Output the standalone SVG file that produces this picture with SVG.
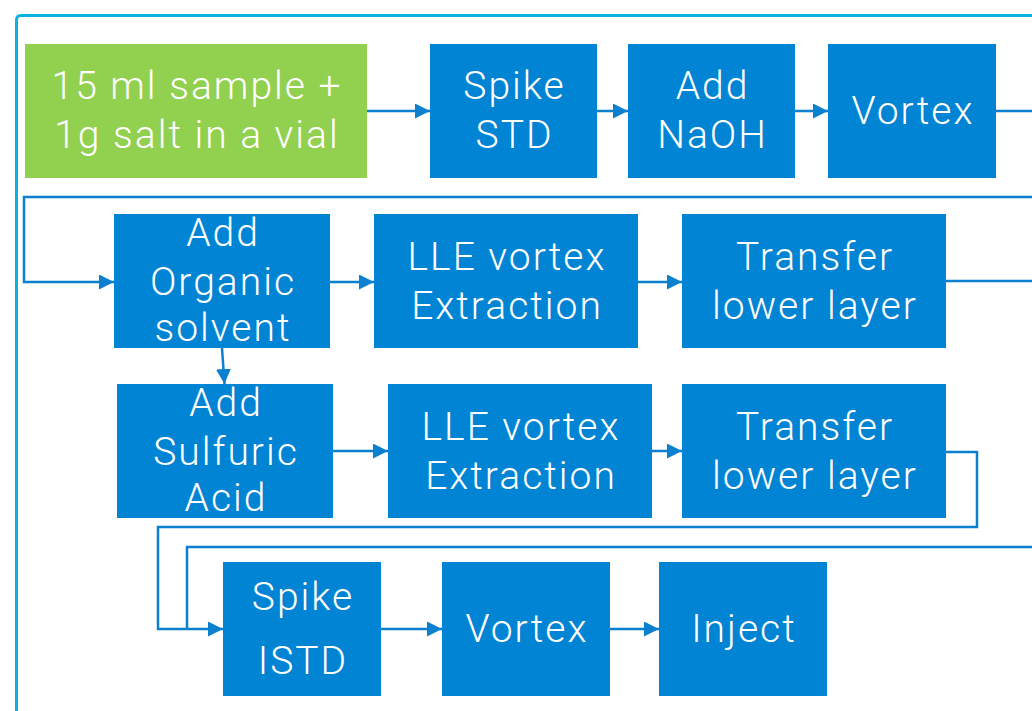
<svg xmlns="http://www.w3.org/2000/svg" width="1032" height="711" viewBox="0 0 1032 711">
  <defs>
    <style>
      .frame { fill: none; stroke: #0BB3E3; stroke-width: 3; }
      .box { fill: #0084D3; }
      .start { fill: #92D050; }
      .lbl { font-family: Roboto, "Open Sans", sans-serif; font-weight: 300; font-size: 39px; letter-spacing: 2px; fill: #FFFFFF; text-anchor: middle; }
      .wire { fill: none; stroke: #0B80CF; stroke-width: 2.5; }
    </style>
    <marker id="arrow" viewBox="0 0 10 10" refX="10" refY="5" markerWidth="6" markerHeight="6" markerUnits="strokeWidth" orient="auto">
      <path d="M0,0 L10,5 L0,10 z" fill="#0B80CF"/>
    </marker>
  </defs>
  <rect width="1032" height="711" fill="#FFFFFF"/>

  <!-- outer frame -->
  <path class="frame" d="M16.5,720 V20 Q16.5,15.5 21,15.5 H1040"/>

  <!-- connectors -->
  <g id="connectors">
    <line class="wire" x1="367" y1="111" x2="430" y2="111" marker-end="url(#arrow)"/>
    <line class="wire" x1="597" y1="111" x2="628" y2="111" marker-end="url(#arrow)"/>
    <line class="wire" x1="795" y1="111" x2="828" y2="111" marker-end="url(#arrow)"/>
    <line class="wire" x1="996" y1="111" x2="1032" y2="111"/>
    <polyline class="wire" points="1032,197 24,197 24,282 114,282" marker-end="url(#arrow)"/>
    <line class="wire" x1="330" y1="282" x2="374" y2="282" marker-end="url(#arrow)"/>
    <line class="wire" x1="638" y1="282" x2="682" y2="282" marker-end="url(#arrow)"/>
    <line class="wire" x1="946" y1="281" x2="1032" y2="281"/>
    <line class="wire" x1="222" y1="348" x2="224.5" y2="384" marker-end="url(#arrow)"/>
    <line class="wire" x1="333" y1="451" x2="388" y2="451" marker-end="url(#arrow)"/>
    <line class="wire" x1="652" y1="451" x2="682" y2="451" marker-end="url(#arrow)"/>
    <polyline class="wire" points="946,452 977,452 977,527 158,527 158,629 223,629" marker-end="url(#arrow)"/>
    <polyline class="wire" points="1032,547 187,547 187,629"/>
    <line class="wire" x1="381" y1="629" x2="442" y2="629" marker-end="url(#arrow)"/>
    <line class="wire" x1="610" y1="629" x2="659" y2="629" marker-end="url(#arrow)"/>
  </g>

  <!-- row 1 -->
  <g id="sample">
    <rect class="start" x="25" y="44" width="342" height="134"/>
    <text class="lbl" x="197" y="99">15 ml sample +</text>
    <text class="lbl" x="197" y="148">1g salt in a vial</text>
  </g>
  <g id="spike-std">
    <rect class="box" x="430" y="44" width="167" height="134"/>
    <text class="lbl" x="514.5" y="99">Spike</text>
    <text class="lbl" x="514.5" y="148">STD</text>
  </g>
  <g id="add-naoh">
    <rect class="box" x="628" y="44" width="167" height="134"/>
    <text class="lbl" x="712.5" y="99">Add</text>
    <text class="lbl" x="712.5" y="148">NaOH</text>
  </g>
  <g id="vortex-1">
    <rect class="box" x="828" y="44" width="168" height="134"/>
    <text class="lbl" x="913" y="124">Vortex</text>
  </g>

  <!-- row 2 -->
  <g id="add-organic">
    <rect class="box" x="114" y="214" width="216" height="134"/>
    <text class="lbl" x="223" y="246">Add</text>
    <text class="lbl" x="223" y="295">Organic</text>
    <text class="lbl" x="223" y="341">solvent</text>
  </g>
  <g id="lle-1">
    <rect class="box" x="374" y="214" width="264" height="134"/>
    <text class="lbl" x="507" y="270">LLE vortex</text>
    <text class="lbl" x="507" y="319">Extraction</text>
  </g>
  <g id="transfer-1">
    <rect class="box" x="682" y="214" width="264" height="134"/>
    <text class="lbl" x="815" y="270">Transfer</text>
    <text class="lbl" x="815" y="319">lower layer</text>
  </g>

  <!-- row 3 -->
  <g id="add-sulfuric">
    <rect class="box" x="117" y="384" width="216" height="134"/>
    <text class="lbl" x="226" y="416">Add</text>
    <text class="lbl" x="226" y="465">Sulfuric</text>
    <text class="lbl" x="226" y="511">Acid</text>
  </g>
  <g id="lle-2">
    <rect class="box" x="388" y="384" width="264" height="134"/>
    <text class="lbl" x="521" y="440">LLE vortex</text>
    <text class="lbl" x="521" y="489">Extraction</text>
  </g>
  <g id="transfer-2">
    <rect class="box" x="682" y="384" width="264" height="134"/>
    <text class="lbl" x="815" y="440">Transfer</text>
    <text class="lbl" x="815" y="489">lower layer</text>
  </g>

  <!-- row 4 -->
  <g id="spike-istd">
    <rect class="box" x="223" y="562" width="158" height="134"/>
    <text class="lbl" x="303" y="610">Spike</text>
    <text class="lbl" x="303" y="674">ISTD</text>
  </g>
  <g id="vortex-2">
    <rect class="box" x="442" y="562" width="168" height="134"/>
    <text class="lbl" x="527" y="642">Vortex</text>
  </g>
  <g id="inject">
    <rect class="box" x="659" y="562" width="168" height="134"/>
    <text class="lbl" x="744" y="642">Inject</text>
  </g>
</svg>
